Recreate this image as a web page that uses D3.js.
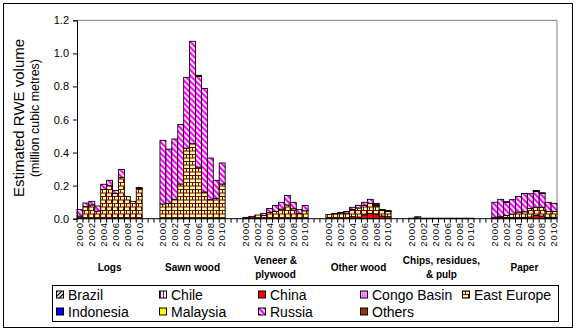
<!DOCTYPE html>
<html><head><meta charset="utf-8">
<script src="https://cdn.jsdelivr.net/npm/d3@7"></script>
<style>body{margin:0;background:#fff}svg{display:block;font-family:Arial,"Liberation Sans",sans-serif}</style>
</head><body><svg id="c" width="577" height="332"></svg>
<script>
const groups = ["Logs", "Sawn wood", "Veneer &\nplywood", "Other wood", "Chips, residues,\n& pulp", "Paper"];
const years = [2000,2001,2002,2003,2004,2005,2006,2007,2008,2009,2010];
const yTicks = [0, 0.2, 0.4, 0.6, 0.8, 1.0, 1.2];
const seriesNames = ["Brazil","Chile","China","Congo Basin","East Europe","Indonesia","Malaysia","Russia","Others"];
const Z = [0,0,0,0,0,0,0,0,0,0,0];
// values: one row per product group, 2000..2010
const brazil = [Z, Z, Z, Z, Z, Z];
const chile = [Z, Z, Z, Z, Z, Z];
const china = [Z, Z, Z,
  [0,0,0,0,0.012,0.010,0.024,0.032,0.028,0.016,0.012],
  Z,
  [0,0,0.004,0.006,0.006,0.008,0.010,0.020,0.016,0.008,0.008]];
const congoBasin = [Z, Z, Z, Z, Z, Z];
const eastEurope = [
  [0.016,0.073,0.083,0.046,0.177,0.200,0.153,0.250,0.135,0.105,0.183],
  [0.089,0.093,0.117,0.210,0.427,0.454,0.312,0.161,0.115,0.123,0.210],
  [0.008,0.014,0.022,0.020,0.038,0.044,0.058,0.083,0.060,0.032,0.048],
  [0.026,0.030,0.034,0.034,0.044,0.055,0.057,0.061,0.049,0.034,0.032],
  [0.003,0.004,0.003,0.003,0.003,0.003,0.003,0.003,0.003,0.003,0.003],
  [0.008,0.012,0.016,0.022,0.034,0.034,0.052,0.049,0.053,0.036,0.036]];
const indonesia = [Z, Z, Z, Z, Z, Z];
const malaysia = [Z, Z, Z, Z, Z, Z];
const russia = [
  [0.040,0.022,0.022,0.031,0.031,0.032,0.018,0.048,0,0,0],
  [0.385,0.328,0.365,0.360,0.428,0.619,0.549,0.627,0.252,0.109,0.127],
  [0,0,0,0.012,0.024,0.036,0.041,0.058,0.039,0.024,0.032],
  [0,0.002,0.004,0.010,0.013,0.016,0.018,0.024,0.006,0.006,0],
  [0,0.008,0,0,0,0,0,0,0,0,0],
  [0.091,0.105,0.079,0.087,0.095,0.111,0.089,0.096,0.083,0.055,0.049]];
const others = [
  [0,0,0,0,0,0,0,0,0,0,0.006],
  [0,0,0,0,0,0,0.006,0,0,0,0],
  Z,
  [0,0,0,0,0,0,0,0,0.010,0,0.006],
  Z,
  [0,0,0.004,0,0,0,0,0.006,0.005,0,0]];
const seriesData = [brazil, chile, china, congoBasin, eastEurope, indonesia, malaysia, russia, others];

const svg = d3.select("#c");
const defs = svg.append("defs");
function pat(id, w, h, bg, draw, rot) {
  const p = defs.append("pattern").attr("id", id).attr("patternUnits", "userSpaceOnUse")
    .attr("width", w).attr("height", h);
  if (rot) p.attr("patternTransform", "rotate(" + rot + ")");
  p.append("rect").attr("width", w).attr("height", h).attr("fill", bg);
  draw(p);
}
pat("pRussia", 4, 4, "#fff", p => p.append("rect").attr("width", 2.2).attr("height", 4).attr("fill", "#FF00FF"), -45);
pat("pBrazil", 3, 3, "#fff", p => p.append("rect").attr("width", 1.2).attr("height", 3).attr("fill", "#000"), 45);
pat("pChile", 3, 3, "#fff", p => p.append("rect").attr("x", 1).attr("width", 1).attr("height", 3).attr("fill", "#800080"));
pat("pCongo", 3, 3, "#fff", p => { p.append("rect").attr("width", 1.5).attr("height", 1.5).attr("fill", "#FF00FF");
  p.append("rect").attr("x", 1.5).attr("y", 1.5).attr("width", 1.5).attr("height", 1.5).attr("fill", "#FF00FF"); }, 45);
pat("pEE", 6, 7, "#FFFF99", p => {
  p.append("path").attr("d", "M0,0.5H6M0,4H6M0.5,0V4M3.5,4V7").attr("stroke", "#800000").attr("stroke-width", 1).attr("fill", "none");
});
const fills = ["url(#pBrazil)", "url(#pChile)", "#FF0000", "url(#pCongo)", "url(#pEE)", "#0000FF", "#FFFF00", "url(#pRussia)", "#993300"];

// outer border
svg.append("rect").attr("x", 3.5).attr("y", 3.5).attr("width", 569).attr("height", 324)
  .attr("fill", "none").attr("stroke", "#000").attr("stroke-width", 1);

const pL = 77, pR = 557, pT = 20.3, pB = 218.7;
const slotsPerGroup = 14;
const slots = d3.range(groups.length * slotsPerGroup - 3);
const x = d3.scaleBand().domain(slots).range([pL, pR]).padding(0);
const y = d3.scaleLinear().domain([0, 1.2]).range([pB, pT]);

// plot frame (grey top/right)
svg.append("path").attr("d", `M${pL},${pT}H${pR}V${pB}`).attr("fill", "none").attr("stroke", "#808080");

// bars
const g = svg.append("g");
groups.forEach((grp, gi) => {
  years.forEach((yr, yi) => {
    const slot = gi * slotsPerGroup + yi;
    let cum = 0;
    seriesData.forEach((s, si) => {
      const v = s[gi][yi];
      if (v <= 0) return;
      g.append("rect").attr("x", x(slot)).attr("width", x.bandwidth())
        .attr("y", y(cum + v)).attr("height", y(cum) - y(cum + v))
        .attr("fill", fills[si]).attr("stroke", "#000").attr("stroke-width", 0.9);
      cum += v;
    });
  });
});

// y axis
const yAxis = svg.append("g").attr("transform", `translate(${pL},0)`)
  .call(d3.axisLeft(y).tickValues(yTicks).tickFormat(d3.format(".1f")).tickSize(4).tickPadding(4));
yAxis.select(".domain").attr("stroke", "#000");
yAxis.selectAll("text").attr("font-size", 11).attr("fill", "#000").attr("font-family", "Arial, Liberation Sans, sans-serif");

// x axis line & ticks at every slot boundary
svg.append("line").attr("x1", pL).attr("x2", pR).attr("y1", pB).attr("y2", pB).attr("stroke", "#000");
svg.append("g").selectAll("line").data(d3.range(slots.length + 1)).join("line")
  .attr("x1", i => pL + i * x.step()).attr("x2", i => pL + i * x.step())
  .attr("y1", pB).attr("y2", pB + 4).attr("stroke", "#000");

// year labels
groups.forEach((grp, gi) => {
  years.forEach((yr, yi) => {
    if (yi % 2) return;
    const cx = x(gi * slotsPerGroup + yi) + x.bandwidth() / 2;
    svg.append("text").attr("transform", `translate(${cx + 3.3},222) rotate(-90)`)
      .attr("text-anchor", "end").attr("font-size", 9.5).attr("letter-spacing", 0.9).attr("fill", "#000")
      .text(yr);
  });
  const gc = x(gi * slotsPerGroup) + (11 * x.step()) / 2;
  const lines = grp.split("\n");
  const t = svg.append("text").attr("text-anchor", "middle").attr("font-size", 10).attr("font-weight", "bold").attr("fill", "#000");
  lines.forEach((ln, li) => {
    t.append("tspan").attr("x", gc).attr("y", lines.length === 1 ? 270.5 : 264 + li * 14).text(ln);
  });
});

// y axis title
svg.append("text").attr("transform", "translate(24,118) rotate(-90)").attr("text-anchor", "middle")
  .attr("font-size", 15).attr("fill", "#000").text("Estimated RWE volume");
svg.append("text").attr("transform", "translate(39,118) rotate(-90)").attr("text-anchor", "middle")
  .attr("font-size", 12.5).attr("fill", "#000").text("(million cubic metres)");

// legend
svg.append("rect").attr("x", 52.5).attr("y", 285.5).attr("width", 506).attr("height", 36)
  .attr("fill", "#fff").attr("stroke", "#000");
const colX = [56, 159, 258, 360, 462];
seriesNames.forEach((nm, i) => {
  const r = Math.floor(i / 5), c = i % 5;
  const ly = r === 0 ? 294.5 : 311.5;
  svg.append("rect").attr("x", colX[c] + 0.5).attr("y", ly - 3.5).attr("width", 7).attr("height", 7)
    .attr("fill", fills[i]).attr("stroke", "#000").attr("stroke-width", 1);
  svg.append("text").attr("x", colX[c] + 12).attr("y", ly + 5).attr("font-size", 14).attr("fill", "#000").text(nm);
});
</script></body></html>
